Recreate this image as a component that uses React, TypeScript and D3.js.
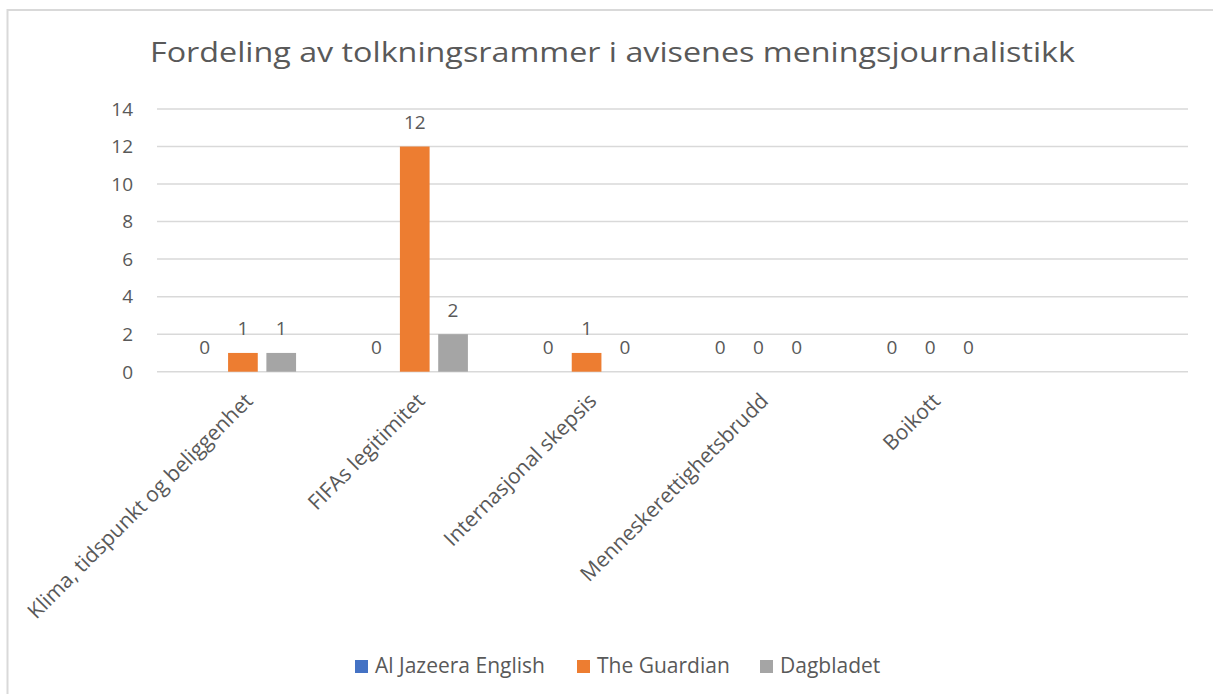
import React from "react";
import * as d3 from "d3";

const categories = [
  "Klima, tidspunkt og beliggenhet",
  "FIFAs legitimitet",
  "Internasjonal skepsis",
  "Menneskerettighetsbrudd",
  "Boikott",
  "",
];
const seriesNames = ["Al Jazeera English", "The Guardian", "Dagbladet"];
const alJazeera: (number | null)[] = [0, 0, 0, 0, 0, null];
const guardian: (number | null)[] = [1, 12, 1, 0, 0, null];
const dagbladet: (number | null)[] = [1, 2, 0, 0, 0, null];
const yTicks = [0, 2, 4, 6, 8, 10, 12, 14];
const colors = ["#4472C4", "#ED7D31", "#A5A5A5"];

const W = 1213;
const H = 694;
const FONT = "'Open Sans', sans-serif";
const TXT = "#595959";

export default function App() {
  const series = [alJazeera, guardian, dagbladet];
  const x0 = d3.scaleBand<string>().domain(categories.map((c, i) => String(i))).range([157, 1188]).padding(0);
  const bw = x0.bandwidth();
  const groupW = 106.3;
  const x1 = d3
    .scaleBand<string>()
    .domain(seriesNames)
    .range([(bw - groupW) / 2, (bw + groupW) / 2])
    .paddingInner(0.225)
    .paddingOuter(0);
  const y = d3.scaleLinear().domain([0, 14]).range([371.7, 109]);

  return (
    <svg width={W} height={H} style={{ position: "absolute", left: 0, top: 0 }} fontFamily={FONT}>
      <rect x={0} y={0} width={W} height={H} fill="#fff" />
      <path d={`M7.5,${H} V10 H${W}`} fill="none" stroke="#d9d9d9" strokeWidth={2} />
      <text
        x={612.5}
        y={62}
        textAnchor="middle"
        fontSize={27}
        fill={TXT}
        textLength={925}
        lengthAdjust="spacingAndGlyphs"
      >
        Fordeling av tolkningsrammer i avisenes meningsjournalistikk
      </text>
      {yTicks.map((t) => (
        <g key={t}>
          <line x1={157} x2={1188} y1={y(t)} y2={y(t)} stroke="#d9d9d9" strokeWidth={1.5} />
          <text x={133} y={y(t)} dy="0.36em" textAnchor="end" fontSize={19} fill={TXT}>
            {t}
          </text>
        </g>
      ))}
      {categories.map((c, i) => (
        <g key={i} transform={`translate(${x0(String(i))},0)`}>
          {series.map((s, j) => {
            const v = s[i];
            if (v === null) return null;
            const bx = x1(seriesNames[j])!;
            return (
              <g key={j}>
                {v > 0 && (
                  <rect x={bx} y={y(v)} width={x1.bandwidth()} height={y(0) - y(v)} fill={colors[j]} />
                )}
                <text
                  x={bx + x1.bandwidth() / 2}
                  y={y(v) - 24.5}
                  dy="0.36em"
                  textAnchor="middle"
                  fontSize={19}
                  fill={TXT}
                >
                  {v}
                </text>
              </g>
            );
          })}
          {c && (
            <text
              transform={`translate(${bw / 2 + 6},${397}) rotate(-45)`}
              textAnchor="end"
              dy="0.35em"
              fontSize={21}
              fill={TXT}
            >
              {c}
            </text>
          )}
        </g>
      ))}
      {seriesNames.map((n, j) => {
        const lx = [355, 577, 760][j];
        return (
          <g key={n}>
            <rect x={lx} y={660} width={13} height={13} fill={colors[j]} />
            <text x={lx + 20} y={673} fontSize={21} fill={TXT}>
              {n}
            </text>
          </g>
        );
      })}
    </svg>
  );
}
